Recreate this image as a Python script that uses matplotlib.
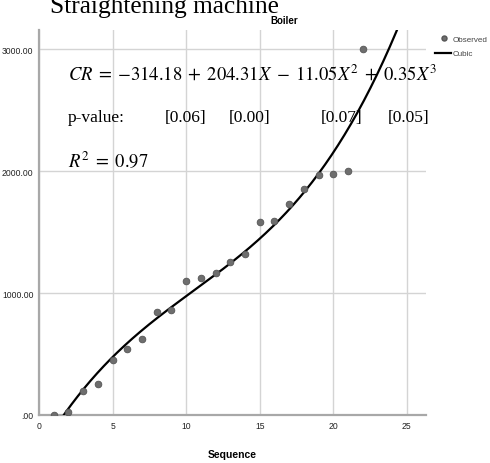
import matplotlib
matplotlib.use("Agg")
from matplotlib import pyplot as plt
import numpy as np

sequence = [1, 2, 3, 4, 5, 6, 7, 8, 9, 10, 11, 12, 13, 14, 15, 16, 17, 18, 19, 20, 21, 22]
observed = [0, 27, 197, 254, 448, 541, 623, 847, 858, 1101, 1125, 1161, 1252, 1320,
            1585, 1590, 1727, 1852, 1967, 1975, 1998, 3000]

# cubic model coefficients (constant, X, X^2, X^3) as printed on the chart
cubic_coef = [-314.18, 204.31, -11.05, 0.35]
p_values = ["[0.06]", "[0.00]", "[0.07]", "[0.05]"]
r_squared = 0.97

x_ticks = [0, 5, 10, 15, 20, 25]
y_ticks = [0, 1000, 2000, 3000]
y_tick_labels = [".00", "1000.00", "2000.00", "3000.00"]

W, H = 490, 464
plt.rcParams["mathtext.fontset"] = "stix"
fig = plt.figure(figsize=(W / 100, H / 100), dpi=100)

def px(x, y):
    return x / W, 1 - y / H

ax = fig.add_axes([39 / W, 1 - 416 / H, (426 - 39) / W, (416 - 31) / H])
ax.set_xlim(0, 26.3)
ax.set_ylim(0, 3156)

ax.set_xticks(x_ticks)
ax.set_yticks(y_ticks)
ax.set_yticklabels(y_tick_labels)
narrow = ["Liberation Sans Narrow", "Liberation Sans", "DejaVu Sans"]
for lab in ax.get_xticklabels() + ax.get_yticklabels():
    lab.set_family(narrow)
    lab.set_fontsize(6.2)
    lab.set_color("#222222")
ax.tick_params(length=0, pad=4)
ax.grid(True, color="#d4d4d4", linewidth=1.0)
ax.set_axisbelow(True)
for side in ["top", "right"]:
    ax.spines[side].set_visible(False)
for side in ["left", "bottom"]:
    ax.spines[side].set_color("#a8a8a8")
    ax.spines[side].set_linewidth(1.6)

# cubic curve
xs = np.linspace(0, 26.3, 300)
ys = np.polyval(cubic_coef[::-1], xs)
ax.plot(xs, ys, color="black", linewidth=1.6, zorder=3)

# observed points
ax.plot(sequence, observed, "o", color="#6e6e6e", markeredgecolor="#555555",
        markersize=4.8, markeredgewidth=0.6, zorder=4)

# axis title
fig.text(*px(232, 455), "Sequence", fontsize=7.5, fontweight="bold", family=narrow,
         ha="center", va="center")

# titles (the top one is cut by the image edge as in the source)
fig.text(*px(50, 13), "Straightening machine", family="Liberation Serif",
         fontsize=18.3, ha="left", va="baseline")
fig.text(*px(284, 21), "Boiler", family=narrow, fontsize=7, fontweight="bold",
         ha="center", va="center")

# legend
fig.lines.append(plt.Line2D([444 / W], [1 - 39 / H], transform=fig.transFigure,
                            marker="o", color="#6e6e6e", markeredgecolor="#555555",
                            markersize=3.6, linestyle="none"))
fig.lines.append(plt.Line2D([435 / W, 451 / W], [1 - 54 / H, 1 - 54 / H],
                            transform=fig.transFigure, color="black", linewidth=1.6))
fig.text(*px(453, 40), "Observed", family=narrow, fontsize=5.8, color="#444444",
         ha="left", va="center")
fig.text(*px(453, 54), "Cubic", family=narrow, fontsize=5.8, color="#444444",
         ha="left", va="center")

# equation annotations
c = cubic_coef
eq = (r"$CR\;=\;{-}%.2f\;+\;%.2fX\;-\;%.2fX^{2}\;+\;%.2fX^{3}$"
      % (-c[0], c[1], -c[2], c[3]))
fig.text(*px(68, 74), eq, fontsize=13.4, ha="left", va="center")
fig.text(*px(68, 118), "p-value:", family="Liberation Serif", fontsize=12.5,
         ha="left", va="center")
for xp, pv in zip([165, 229, 321, 388], p_values):
    fig.text(*px(xp, 118), pv, family="Liberation Serif", fontsize=12.5,
             ha="left", va="center")
fig.text(*px(68, 161), r"$R^{2}\;=\;%.2f$" % r_squared, fontsize=13.4,
         ha="left", va="center")

fig.savefig("out.png", dpi=100)
